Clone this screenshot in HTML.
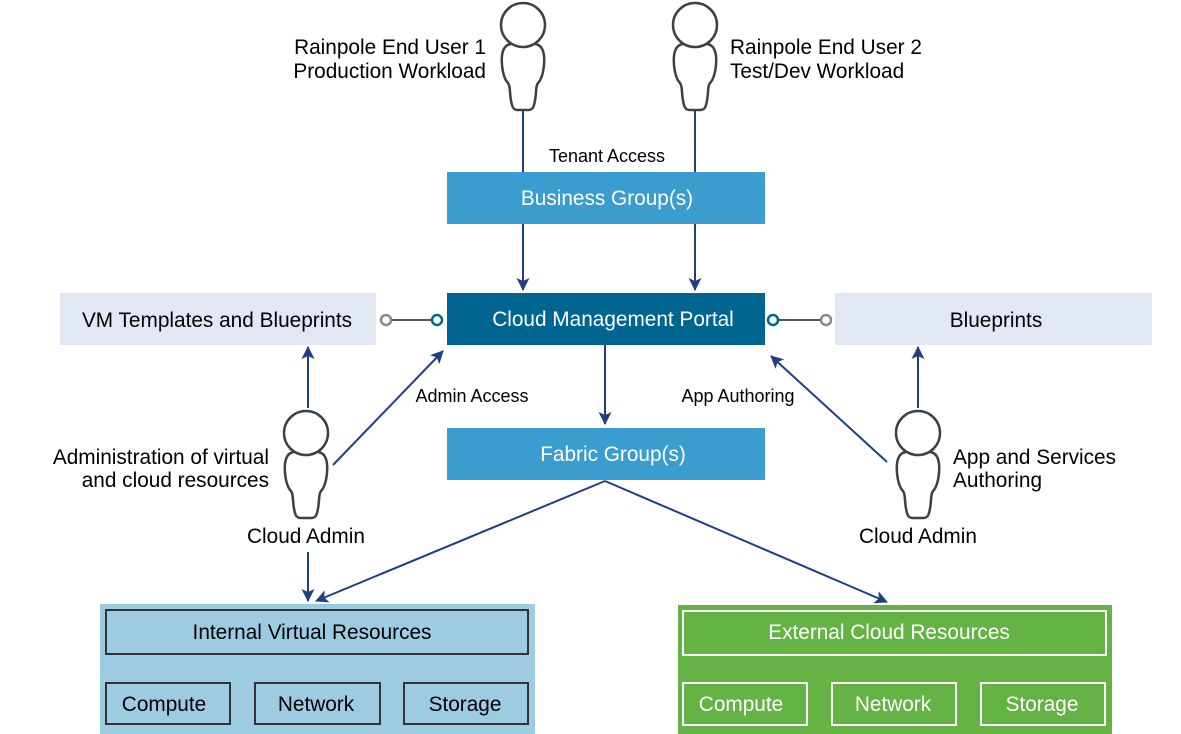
<!DOCTYPE html>
<html><head><meta charset="utf-8"><style>
body{margin:0;background:#fff;}
svg{display:block;font-family:"Liberation Sans",Arial,sans-serif;}
</style></head><body>
<svg width="1181" height="734" viewBox="0 0 1181 734" xmlns="http://www.w3.org/2000/svg">
<defs>
<marker id="a" markerWidth="13" markerHeight="13" refX="12" refY="6.5" orient="auto" markerUnits="userSpaceOnUse">
<path d="M0,0 L13,6.5 L0,13 L3,6.5 Z" fill="#1f3f7f"/></marker>
<g id="p" fill="#fff" stroke="#404040" stroke-width="2.5">
<path d="M -12 19 C -20 20, -22 28, -21 40 C -20 50, -18 55, -15 58 C -12 62, -14 70, -11 80 C -10 84, -8 85, -5 85 L 5 85 C 8 85, 10 84, 11 80 C 14 70, 12 62, 15 58 C 18 55, 20 50, 21 40 C 22 28, 20 20, 12 19"/>
<circle cx="0" cy="0" r="22"/>
</g>
</defs>
<use href="#p" x="523" y="25"/>
<use href="#p" x="695" y="25"/>
<use href="#p" x="306" y="433"/>
<use href="#p" x="918" y="433"/>
<g font-size="20.8" fill="#000">
<text x="486" y="54" text-anchor="end">Rainpole End User 1</text>
<text x="486" y="78" text-anchor="end">Production Workload</text>
<text x="730" y="54">Rainpole End User 2</text>
<text x="730" y="78">Test/Dev Workload</text>
<text x="269" y="464" text-anchor="end">Administration of virtual</text>
<text x="269" y="487" text-anchor="end">and cloud resources</text>
<text x="306" y="543" text-anchor="middle">Cloud Admin</text>
<text x="953" y="464">App and Services</text>
<text x="953" y="487">Authoring</text>
<text x="918" y="543" text-anchor="middle">Cloud Admin</text>
</g>
<g font-size="18" fill="#000">
<text x="607" y="162" text-anchor="middle">Tenant Access</text>
<text x="472" y="402" text-anchor="middle">Admin Access</text>
<text x="738" y="402" text-anchor="middle">App Authoring</text>
</g>
<rect x="447" y="172" width="318" height="52" fill="#3a9ccf"/>
<text x="607" y="205" text-anchor="middle" font-size="20.8" fill="#fff">Business Group(s)</text>
<rect x="447" y="293" width="318" height="52" fill="#006590"/>
<text x="613" y="326" text-anchor="middle" font-size="20.8" fill="#fff">Cloud Management Portal</text>
<rect x="447" y="428" width="318" height="52" fill="#3a9ccf"/>
<text x="613" y="461" text-anchor="middle" font-size="20.8" fill="#fff">Fabric Group(s)</text>
<rect x="60" y="293" width="316" height="52" fill="#e2e8f3"/>
<text x="217" y="327" text-anchor="middle" font-size="20.8">VM Templates and Blueprints</text>
<rect x="835" y="293" width="317" height="52" fill="#e2e8f3"/>
<text x="996" y="327" text-anchor="middle" font-size="20.8">Blueprints</text>
<line x1="390" y1="320" x2="433" y2="320" stroke="#555" stroke-width="2"/>
<circle cx="386" cy="320" r="5" fill="#fff" stroke="#888" stroke-width="2.5"/>
<circle cx="437" cy="320" r="5" fill="#fff" stroke="#006590" stroke-width="2.5"/>
<line x1="777" y1="320" x2="822" y2="320" stroke="#555" stroke-width="2"/>
<circle cx="773" cy="320" r="5" fill="#fff" stroke="#006590" stroke-width="2.5"/>
<circle cx="826" cy="320" r="5" fill="#fff" stroke="#888" stroke-width="2.5"/>
<g stroke="#1f3f7f" stroke-width="2" fill="none">
<line x1="523" y1="111" x2="523" y2="172"/>
<line x1="695" y1="111" x2="695" y2="172"/>
<line x1="523" y1="224" x2="523" y2="290" marker-end="url(#a)"/>
<line x1="695" y1="224" x2="695" y2="290" marker-end="url(#a)"/>
<line x1="605" y1="345" x2="605" y2="424" marker-end="url(#a)"/>
<line x1="308" y1="408" x2="308" y2="347" marker-end="url(#a)"/>
<line x1="333" y1="465" x2="443" y2="351" marker-end="url(#a)"/>
<line x1="308" y1="552" x2="308" y2="601" marker-end="url(#a)"/>
<line x1="605" y1="481" x2="316" y2="601" marker-end="url(#a)"/>
<line x1="605" y1="481" x2="887" y2="602" marker-end="url(#a)"/>
<line x1="887" y1="462" x2="771" y2="356" marker-end="url(#a)"/>
<line x1="918" y1="408" x2="918" y2="347" marker-end="url(#a)"/>
</g>
<rect x="100" y="604" width="435" height="130" fill="#9ccbe2"/>
<g fill="none" stroke="#333" stroke-width="2">
<rect x="106" y="610" width="422" height="44"/>
<rect x="106" y="683" width="124" height="41"/>
<rect x="255" y="683" width="125" height="41"/>
<rect x="404" y="683" width="124" height="41"/>
</g>
<g font-size="20.8" text-anchor="middle" fill="#000">
<text x="312" y="639">Internal Virtual Resources</text>
<text x="164" y="711">Compute</text>
<text x="316" y="711">Network</text>
<text x="465" y="711">Storage</text>
</g>
<rect x="678" y="605" width="434" height="129" fill="#65b345"/>
<g fill="none" stroke="#fff" stroke-width="2">
<rect x="683" y="611" width="423" height="44"/>
<rect x="683" y="683" width="124" height="42"/>
<rect x="832" y="683" width="124" height="42"/>
<rect x="981" y="683" width="124" height="42"/>
</g>
<g font-size="20.8" text-anchor="middle" fill="#fff">
<text x="889" y="639">External Cloud Resources</text>
<text x="741" y="711">Compute</text>
<text x="893" y="711">Network</text>
<text x="1042" y="711">Storage</text>
</g>
</svg>
</body></html>
